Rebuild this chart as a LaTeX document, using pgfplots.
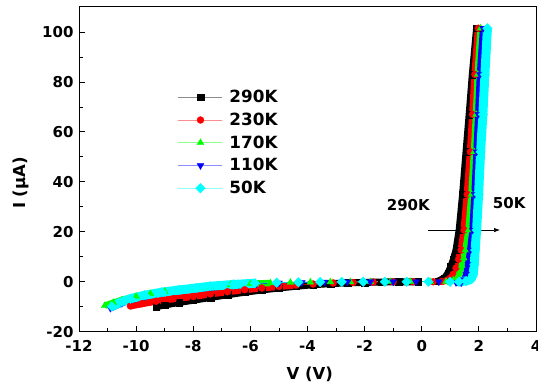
\documentclass[border=0pt]{standalone}
\usepackage{pgfplots}
\pgfplotsset{compat=1.18}
\usepackage{pgfplotstable}
\usepackage{fontspec}
\setmainfont{DejaVu Sans}
\usetikzlibrary{arrows.meta}
\definecolor{cred}{RGB}{255,0,0}
\definecolor{cgreen}{RGB}{0,255,0}
\definecolor{cblue}{RGB}{0,0,255}
\definecolor{ccyan}{RGB}{0,255,255}

\pgfplotstableread{
V I
-9.3 -10.0
-9.0 -9.3
-8.5 -8.3
-8.0 -7.4
-7.4 -6.3
-6.8 -5.2
-6.2 -4.2
-5.6 -3.3
-5.0 -2.5
-4.4 -1.8
-3.8 -1.2
-3.2 -0.75
-2.6 -0.45
-2.0 -0.25
-1.4 -0.12
-0.8 -0.05
-0.12 0
0.58 0.3
0.80 1.5
0.92 3.5
1.02 6.0
1.11 9.0
1.20 12.7
1.31 20.7
1.43 35
1.55 52
1.66 67
1.77 83
1.92 101.5
}\tblack

\pgfplotstableread{
V I
-10.2 -9.7
-9.8 -8.8
-9.3 -7.8
-8.7 -6.8
-8.0 -5.9
-7.4 -4.9
-6.8 -4.0
-6.2 -3.2
-5.6 -2.5
-5.0 -1.9
-4.4 -1.35
-3.8 -0.9
-3.1 -0.5
-2.4 -0.3
-1.7 -0.15
-1.0 -0.05
-0.3 0
0.4 0
0.70 0.1
0.88 0.6
1.00 1.5
1.10 3.0
1.20 5.5
1.29 9.0
1.38 12.7
1.48 20.7
1.59 35
1.70 52
1.78 67
1.86 83
1.98 101.5
}\tred

\pgfplotstableread{
V I
-11.1 -9.6
-10.8 -8.4
-10.5 -7.3
-10.0 -5.9
-9.5 -4.8
-9.0 -3.9
-8.5 -3.2
-7.9 -2.5
-7.4 -1.9
-6.7 -1.3
-6.0 -0.8
-5.3 -0.5
-4.6 -0.3
-3.9 -0.2
-3.2 -0.1
-2.5 -0.05
-1.8 0
-1.1 0
-0.4 0
0.3 0
0.85 0
1.10 0.6
1.22 1.5
1.32 3.5
1.40 6.5
1.47 9.5
1.53 12.7
1.64 20.7
1.74 35
1.83 52
1.90 67
1.96 83
2.06 101.5
}\tgreen

\pgfplotstableread{
V I
-10.9 -10.6
-10.5 -8.6
-10.2 -7.3
-9.7 -5.9
-9.1 -4.6
-8.5 -3.7
-7.9 -2.9
-7.4 -2.3
-6.6 -1.5
-5.8 -0.9
-5.0 -0.5
-4.2 -0.3
-3.4 -0.15
-2.6 -0.05
-1.8 0
-1.0 0
-0.2 0
0.6 0
1.20 -0.3
1.38 -0.4
1.48 0.8
1.56 3.0
1.63 7.0
1.70 12.7
1.78 20.7
1.85 35
1.92 52
1.98 67
2.04 83
2.15 101.5
}\tblue

\pgfplotstableread{
V I
-10.85 -9.9
-10.5 -8.0
-10.2 -6.8
-9.7 -5.4
-9.1 -4.2
-8.5 -3.3
-7.9 -2.5
-7.4 -1.8
-6.6 -1.1
-5.84 -0.6
-5.08 -0.35
-4.32 -0.2
-3.56 -0.1
-2.80 -0.05
-2.05 0
-1.29 0
-0.53 0
0.23 0
0.99 0
1.30 0
1.55 0.3
1.72 1.0
1.80 3.0
1.84 7.0
1.87 12.7
1.92 20.7
1.99 35
2.06 52
2.14 67
2.21 83
2.30 101.5
}\tcyan

\begin{document}
\begin{tikzpicture}
\begin{axis}[
  scale only axis, width=457bp, height=325.7bp,
  xmin=-12, xmax=4, ymin=-20, ymax=110.4,
  xtick={-12,-10,...,4}, ytick={-20,0,...,100},
  minor x tick num=1, minor y tick num=1,
  tick align=inside, xtick pos=left, ytick pos=left,
  major tick length=6bp, minor tick length=4bp,
  axis line style={line width=0.8bp},
  every tick/.style={line width=0.8bp, black},
  ticklabel style={font=\fontsize{15bp}{18bp}\selectfont\bfseries},
  yticklabel style={xshift=-2bp},
  xticklabel style={yshift=-5bp},
  /pgf/number format/assume math mode=true,
  xlabel={V (V)}, ylabel={I (µA)},
  label style={font=\fontsize{16.5bp}{20bp}\selectfont\bfseries},
  xlabel style={at={(axis description cs:0.505,-0.13)}, anchor=center},
  ylabel style={at={(axis description cs:-0.128,0.4566)}, anchor=center},
  legend style={draw=none, fill=none, at={(axis description cs:0.2166,0.748)}, anchor=north west,
    font=\fontsize{16.8bp}{20bp}\selectfont\bfseries, row sep=4.8bp, inner sep=0pt},
  legend cell align=left,
  legend image code/.code={
    \draw[#1, line width=0.6bp, opacity=0.45] (0bp,0bp) -- (44bp,0bp);
    \draw[#1, line width=0.6bp] plot coordinates {(22bp,0bp)};
    \path[draw=none, fill=none] (0bp,0bp) -- (49bp,0bp);
  },
  band/.style={line width=#1, line join=round, forget plot},
]
% 290K
\addplot[black, band=7bp, restrict x to domain=-9.5:-0.1] table[x=V,y=I]{\tblack};
\addplot[black, band=7bp, restrict x to domain=0.5:2.5] table[x=V,y=I]{\tblack};
\addplot[black, line width=0.5bp, mark=square*, mark size=3.3bp, mark options={solid, line width=0.3bp, fill=black}] table[x=V,y=I]{\tblack};
\addlegendentry{290K}
% 230K
\addplot[cred, band=7bp, restrict x to domain=-10.3:-4.0] table[x=V,y=I]{\tred};
\addplot[cred, band=7bp, restrict x to domain=0.65:2.5] table[x=V,y=I]{\tred};
\addplot[cred, line width=0.5bp, mark=*, mark size=3.5bp, mark options={solid, line width=0.3bp, fill=cred}] table[x=V,y=I]{\tred};
\addlegendentry{230K}
% 170K
\addplot[cgreen, band=6.5bp, restrict x to domain=-11.2:-5.0] table[x=V,y=I]{\tgreen};
\addplot[cgreen, band=6.5bp, restrict x to domain=0.8:2.5] table[x=V,y=I]{\tgreen};
\addplot[cgreen, line width=0.5bp, mark=triangle*, mark size=4bp, mark options={solid, line width=0.3bp, fill=cgreen}] table[x=V,y=I]{\tgreen};
\addlegendentry{170K}
% 110K
\addplot[cblue, band=6.5bp, restrict x to domain=-11:-5.5] table[x=V,y=I]{\tblue};
\addplot[cblue, band=6.5bp, restrict x to domain=1.15:2.5] table[x=V,y=I]{\tblue};
\addplot[cblue, line width=0.5bp, mark=triangle*, mark size=4bp, mark options={solid, line width=0.3bp, fill=cblue, rotate=180}] table[x=V,y=I]{\tblue};
\addlegendentry{110K}
% 50K
\addplot[ccyan, band=9bp, restrict x to domain=-11:-5.5] table[x=V,y=I]{\tcyan};
\addplot[ccyan, band=9bp, restrict x to domain=1.25:2.5] table[x=V,y=I]{\tcyan};
\addplot[ccyan, line width=0.5bp, mark=square*, mark size=3.4bp, mark options={solid, line width=0.3bp, fill=ccyan, rotate=45}] table[x=V,y=I]{\tcyan};
\addlegendentry{50K}

\node[font=\fontsize{15bp}{18bp}\selectfont\bfseries] at (axis cs:-0.47,30.7) {290K};
\node[font=\fontsize{15bp}{18bp}\selectfont\bfseries] at (axis cs:3.06,31.7) {50K};
\draw[line width=0.7bp, -{Latex[length=6bp,width=4.5bp]}] (axis cs:0.23,20.7) -- (axis cs:2.74,20.7);
\end{axis}
\pgfresetboundingbox
\path ([shift={(-79bp,-53.3bp)}]current axis.south west) rectangle ([shift={(2bp,6bp)}]current axis.north east);
\end{tikzpicture}
\end{document}
